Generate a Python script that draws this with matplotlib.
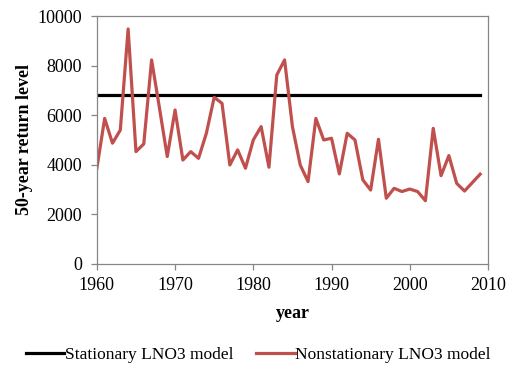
import matplotlib
matplotlib.use("Agg")
import matplotlib.pyplot as plt

# data
years = list(range(1960, 2010))
nonstationary = [3850, 5870, 4870, 5400, 9480, 4530, 4840, 8230, 6300, 4330,
                 6210, 4190, 4530, 4260, 5270, 6720, 6480, 3990, 4600, 3860,
                 5000, 5540, 3900, 7620, 8230, 5540, 3990, 3320, 5870, 5000,
                 5070, 3630, 5270, 5000, 3390, 2980, 5030, 2650, 3050, 2920,
                 3020, 2920, 2550, 5470, 3560, 4370, 3250, 2940, 3280, 3620]
stationary_level = 6830
stationary = [stationary_level] * len(years)

plt.rcParams['font.family'] = ['Liberation Serif', 'DejaVu Serif']

fig = plt.figure(figsize=(5.07, 3.65), dpi=100)
ax = fig.add_axes([0.191, 0.277, 0.7715, 0.679])

ax.plot(years, stationary, color='black', lw=2.3, label='Stationary LNO3 model')
ax.plot(years, nonstationary, color='#C0504D', lw=2.3, label='Nonstationary LNO3 model')

ax.set_xlim(1960, 2010)
ax.set_ylim(0, 10000)
ax.set_xticks(range(1960, 2011, 10))
ax.set_yticks(range(0, 10001, 2000))

for s in ax.spines.values():
    s.set_color('#868686')
    s.set_linewidth(0.9)
ax.tick_params(direction='out', length=4.5, width=0.9, color='#868686',
               labelsize=13)
ax.tick_params(axis='x', pad=5)
ax.tick_params(axis='y', pad=6)

ax.set_xlabel('year', fontsize=13, fontweight='bold', labelpad=8)
ax.set_ylabel('50-year return level', fontsize=13, fontweight='bold', labelpad=3)

fig.legend(loc='center', bbox_to_anchor=(0.51, 0.027), ncol=2, frameon=False,
           fontsize=12.5, handlelength=2.2, handletextpad=0.05, columnspacing=1.3)

fig.savefig('out.png', dpi=100)
